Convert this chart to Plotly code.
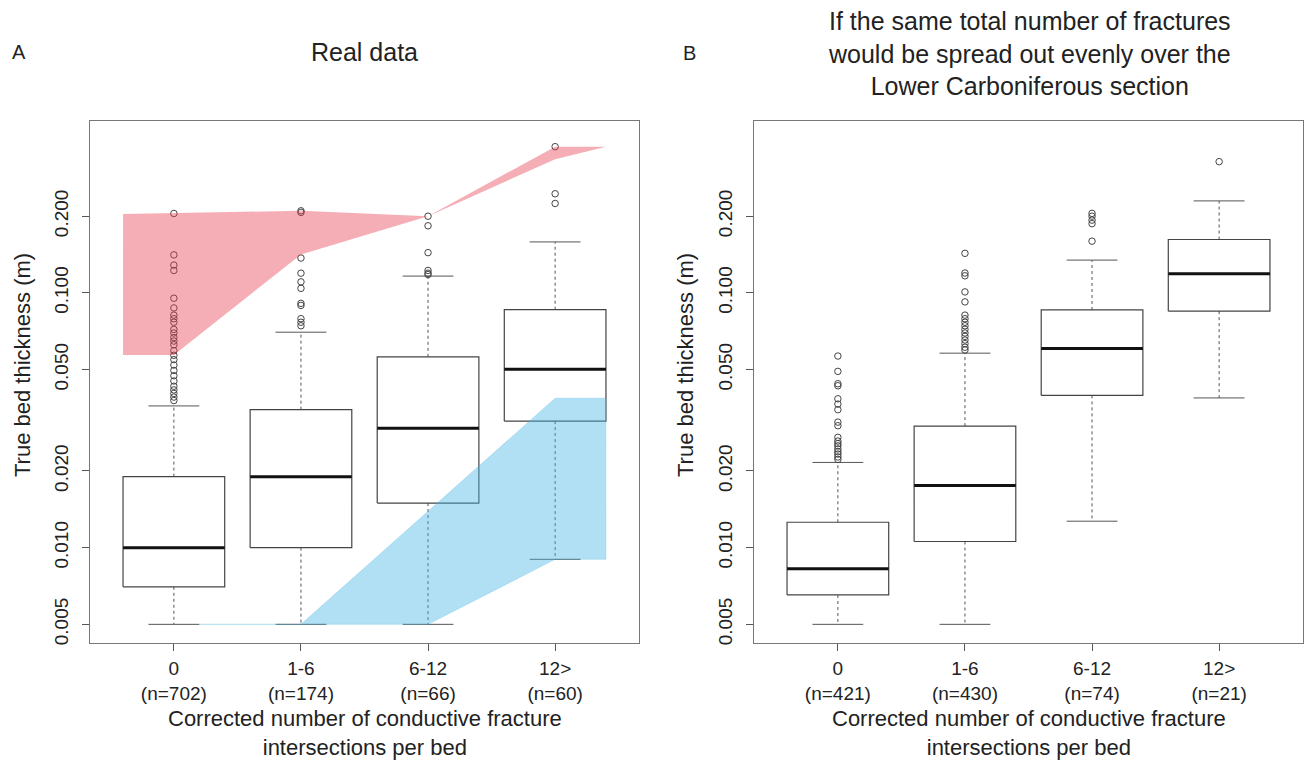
import plotly.graph_objects as go

# ---------------- data ----------------
categories = ["0", "1-6", "6-12", "12>"]
n_a = [702, 174, 66, 60]
n_b = [421, 430, 74, 21]

# Panel A (real data) box statistics (m)
a_lower = [0.005, 0.005, 0.005, 0.009]
a_q1 = [0.00702, 0.0100, 0.01496, 0.0314]
a_median = [0.0100, 0.0190, 0.0294, 0.0501]
a_q3 = [0.0190, 0.0348, 0.0561, 0.0859]
a_upper = [0.0360, 0.0701, 0.1164, 0.1585]
a_outliers = [
    [0.205, 0.141, 0.1286, 0.1225, 0.0953, 0.0873, 0.0818, 0.0792, 0.0767, 0.0719,
     0.0696, 0.0668, 0.0647, 0.0626, 0.0593, 0.0569, 0.0547, 0.0521, 0.0496, 0.0473,
     0.0451, 0.0430, 0.0416, 0.0403, 0.0390, 0.0378],
    [0.210, 0.207, 0.137, 0.1195, 0.1105, 0.1042, 0.0910, 0.0893, 0.0792, 0.0767, 0.0743],
    [0.200, 0.1834, 0.1439, 0.1225, 0.1195, 0.118],
    [0.375, 0.245, 0.2244],
]

# Panel B (evenly spread) box statistics (m)
b_lower = [0.005, 0.005, 0.0127, 0.0387]
b_q1 = [0.00652, 0.01057, 0.0396, 0.0848]
b_median = [0.00827, 0.01753, 0.0605, 0.119]
b_q3 = [0.01258, 0.0300, 0.0857, 0.162]
b_upper = [0.0216, 0.0580, 0.1345, 0.2297]
b_outliers = [
    [0.0565, 0.0492, 0.0440, 0.0432, 0.0384, 0.0366, 0.0348, 0.0311, 0.0301, 0.0271,
     0.0262, 0.0256, 0.0251, 0.0244, 0.0238, 0.0233, 0.0227, 0.0222],
    [0.143, 0.1197, 0.1167, 0.1009, 0.0922, 0.0818, 0.0792, 0.0767, 0.0743, 0.0719,
     0.0696, 0.0675, 0.0653, 0.0632, 0.0612, 0.0597],
    [0.2052, 0.200, 0.193, 0.187, 0.1596],
    [0.3275],
]

# Shaded envelopes in panel A (category position, thickness)
red_upper_x = [0.6, 2, 3, 4, 4.4]
red_upper_y = [0.204, 0.210, 0.200, 0.375, 0.375]
red_lower_x = [0.6, 1, 2, 3, 4, 4.4]
red_lower_y = [0.057, 0.057, 0.1416, 0.200, 0.335, 0.375]
blue_upper_x = [1.2, 2, 4, 4.4]
blue_upper_y = [0.005, 0.005, 0.0386, 0.0386]
blue_lower_x = [1.2, 3, 4, 4.4]
blue_lower_y = [0.005, 0.005, 0.009, 0.009]

y_ticks = [0.005, 0.010, 0.020, 0.050, 0.100, 0.200]
y_ticktext = ["0.005", "0.010", "0.020", "0.050", "0.100", "0.200"]

# ---------------- figure ----------------
W, H = 1306, 762
FONT = "Liberation Sans, Arial, Helvetica, sans-serif"
BOX_W = 0.4
CAP_W = 0.2

fig = go.Figure()


def add_boxes(xa, ya, lower, q1, med, q3, upper, outliers):
    pos = list(range(1, len(categories) + 1))
    for i, p in enumerate(pos):
        # whiskers (dashed)
        fig.add_trace(go.Scatter(x=[p, p, None, p, p], y=[q3[i], upper[i], None, q1[i], lower[i]],
                                 mode="lines", line=dict(color="#555555", width=1, dash="3px,3px"),
                                 xaxis=xa, yaxis=ya, hoverinfo="skip", showlegend=False))
        # caps
        fig.add_trace(go.Scatter(x=[p - CAP_W, p + CAP_W, None, p - CAP_W, p + CAP_W],
                                 y=[upper[i], upper[i], None, lower[i], lower[i]],
                                 mode="lines", line=dict(color="#555555", width=1),
                                 xaxis=xa, yaxis=ya, hoverinfo="skip", showlegend=False))
        # box
        fig.add_trace(go.Scatter(x=[p - BOX_W, p + BOX_W, p + BOX_W, p - BOX_W, p - BOX_W],
                                 y=[q1[i], q1[i], q3[i], q3[i], q1[i]],
                                 mode="lines", line=dict(color="#444444", width=1.2),
                                 xaxis=xa, yaxis=ya, hoverinfo="skip", showlegend=False))
        # median
        fig.add_trace(go.Scatter(x=[p - BOX_W, p + BOX_W], y=[med[i], med[i]],
                                 mode="lines", line=dict(color="#111111", width=3),
                                 xaxis=xa, yaxis=ya, hoverinfo="skip", showlegend=False))
        # outliers
        fig.add_trace(go.Scatter(x=[p] * len(outliers[i]), y=outliers[i], mode="markers",
                                 marker=dict(symbol="circle-open", size=6.5, color="#444444",
                                             line=dict(width=1)),
                                 xaxis=xa, yaxis=ya, hoverinfo="skip", showlegend=False))


add_boxes("x", "y", a_lower, a_q1, a_median, a_q3, a_upper, a_outliers)
add_boxes("x2", "y2", b_lower, b_q1, b_median, b_q3, b_upper, b_outliers)

# envelopes drawn semi-transparent on top
fig.add_trace(go.Scatter(x=red_upper_x + red_lower_x[::-1], y=red_upper_y + red_lower_y[::-1],
                         fill="toself", fillcolor="rgba(232,62,80,0.42)", mode="lines",
                         line=dict(width=0), xaxis="x", yaxis="y", hoverinfo="skip",
                         showlegend=False))
fig.add_trace(go.Scatter(x=blue_upper_x + blue_lower_x[::-1], y=blue_upper_y + blue_lower_y[::-1],
                         fill="toself", fillcolor="rgba(70,182,232,0.42)", mode="lines",
                         line=dict(width=1, color="rgba(70,182,232,0.25)"), xaxis="x", yaxis="y",
                         hoverinfo="skip", showlegend=False))

XR = [0.34, 4.66]
YR = [-2.3755, -0.324]
x_dom_a = [90 / W, 639 / W]
x_dom_b = [754 / W, 1303 / W]
y_dom = [1 - 645 / H, 1 - 121 / H]

common_x = dict(range=XR, tickmode="array", tickvals=[1, 2, 3, 4], showgrid=False, zeroline=False,
                ticks="outside", ticklen=7, tickcolor="#555555", showline=True, linecolor="#777777",
                linewidth=1, mirror=True, tickfont=dict(size=19, color="#222222", family=FONT),
                ticklabelstandoff=1)
common_y = dict(type="log", range=YR, tickmode="array", tickvals=y_ticks, ticktext=y_ticktext,
                showgrid=False, zeroline=False, ticks="outside", ticklen=7, tickcolor="#555555",
                showline=True, linecolor="#777777", linewidth=1, mirror=True, tickangle=-90,
                tickfont=dict(size=19, color="#222222", family=FONT), ticklabelstandoff=6)

fig.update_layout(
    width=W, height=H, margin=dict(l=0, r=0, t=0, b=0),
    paper_bgcolor="white", plot_bgcolor="white",
    font=dict(family=FONT, color="#222222"),
    xaxis=dict(domain=x_dom_a, anchor="y",
               ticktext=[f"{c}<br>(n={n})" for c, n in zip(categories, n_a)], **common_x),
    yaxis=dict(domain=y_dom, anchor="x", **common_y),
    xaxis2=dict(domain=x_dom_b, anchor="y2",
                ticktext=[f"{c}<br>(n={n})" for c, n in zip(categories, n_b)], **common_x),
    yaxis2=dict(domain=y_dom, anchor="x2", **common_y),
)


def px(x):
    return x / W


def py(y):
    return 1 - y / H


annos = [
    dict(text="A", x=px(19), y=py(52), size=20),
    dict(text="B", x=px(689), y=py(53), size=20),
    dict(text="Real data", x=px(364.5), y=py(52), size=25),
    dict(text="If the same total number of fractures<br>would be spread out evenly over the<br>"
              "Lower Carboniferous section", x=px(1029), y=py(54), size=25),
    dict(text="Corrected number of conductive fracture<br>intersections per bed",
         x=px(364.5), y=py(735), size=22),
    dict(text="Corrected number of conductive fracture<br>intersections per bed",
         x=px(1028.5), y=py(735), size=22),
]
for a in annos:
    fig.add_annotation(text=a["text"], x=a["x"], y=a["y"], xref="paper", yref="paper",
                       xanchor="center", yanchor="middle", showarrow=False,
                       font=dict(size=a["size"], family=FONT, color="#222222"))

for xc in (22, 685):
    fig.add_annotation(text="True bed thickness (m)", x=px(xc), y=py(366), xref="paper",
                       yref="paper", xanchor="center", yanchor="middle", showarrow=False,
                       textangle=-90, font=dict(size=22, family=FONT, color="#222222"))

fig.write_html("out.html", config={"displayModeBar": False},
               post_script="document.body.style.margin='0';")
